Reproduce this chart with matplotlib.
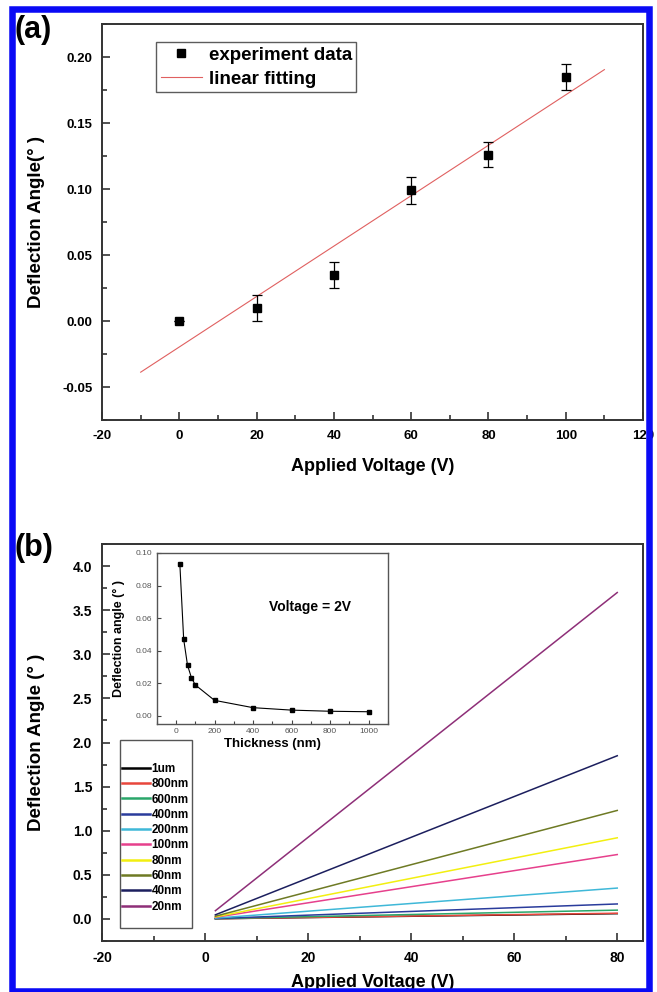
import matplotlib.pyplot as plt
import numpy as np
from matplotlib.patches import Rectangle
from matplotlib.ticker import MultipleLocator

plt.rcParams['font.family'] = ['Liberation Sans', 'DejaVu Sans']
plt.rcParams['font.weight'] = 'bold'
plt.rcParams['axes.labelweight'] = 'bold'
plt.rcParams['axes.unicode_minus'] = False
plt.rcParams['axes.linewidth'] = 1.4
plt.rcParams['axes.edgecolor'] = '#333333'

# panel (a): measured deflection vs applied voltage
voltage_a = [0, 20, 40, 60, 80, 100]
angle_a = [0.0, 0.010, 0.035, 0.099, 0.126, 0.185]
error_a = [0.0, 0.010, 0.010, 0.010, 0.0095, 0.010]
fit_range = [-10, 110]

# panel (b): simulated deflection for several thicknesses
thickness_labels = ['1um', '800nm', '600nm', '400nm', '200nm',
                    '100nm', '80nm', '60nm', '40nm', '20nm']
line_colors = ['#000000', '#e8473c', '#2aa66a', '#2a3c9c', '#3fb8d8',
               '#e6408c', '#f2ef10', '#6e7a24', '#1c1f5e', '#8e2f78']
voltage_b = [2, 80]
angle_80v = [0.06, 0.065, 0.10, 0.17, 0.35, 0.73, 0.92, 1.23, 1.85, 3.70]

# inset: deflection at 2 V vs thickness
thickness_nm = [20, 40, 60, 80, 100, 200, 400, 600, 800, 1000]
angle_2v = [0.0935, 0.047, 0.031, 0.0235, 0.019, 0.0095, 0.005, 0.0035, 0.0028, 0.0025]

fig = plt.figure(figsize=(6.57, 9.92), dpi=100)


def style_axes(ax, size=9.5, pad=6):
    ax.tick_params(which='both', direction='in', top=False, right=False,
                   labelsize=size, pad=pad, width=1.2, color='#333333')
    ax.tick_params(which='major', length=6)
    ax.tick_params(which='minor', length=3.5)


# ---- (a)
ax1 = fig.add_axes([0.1553, 0.5766, 0.8234, 0.3992])
ax1.errorbar(voltage_a, angle_a, yerr=error_a, fmt='none', ecolor='black',
             capsize=3.5, elinewidth=0.9, capthick=0.9, zorder=3)
ax1.plot(voltage_a, angle_a, 's', color='black', ms=5.5,
         label='experiment data', zorder=4)
k, b = np.polyfit(voltage_a, angle_a, 1)
fx = np.array(fit_range)
ax1.plot(fx, k * fx + b, color='#e06060', lw=0.8, label='linear fitting')
ax1.set_xlim(-20, 120)
ax1.set_ylim(-0.075, 0.225)
ax1.xaxis.set_major_locator(MultipleLocator(20))
ax1.xaxis.set_minor_locator(MultipleLocator(10))
ax1.yaxis.set_major_locator(MultipleLocator(0.05))
ax1.yaxis.set_minor_locator(MultipleLocator(0.025))
ax1.yaxis.set_major_formatter(plt.FormatStrFormatter('%.2f'))
style_axes(ax1, pad=7)
ax1.set_xlabel('Applied Voltage (V)', fontsize=13, labelpad=12)
ax1.set_ylabel('Deflection Angle(° )', fontsize=13.5)
ax1.yaxis.set_label_coords(-0.105, 0.5)
leg1 = ax1.legend(loc='upper left',
                  bbox_to_anchor=(0.0998, 0.9545), borderaxespad=0,
                  fancybox=False, edgecolor='#333333',
                  handlelength=2.2, handletextpad=0.35, borderpad=0.25,
                  labelspacing=0.35, prop={'weight': 'bold', 'size': 13.5})
leg1.get_frame().set_linewidth(1.0)

# ---- (b)
ax2 = fig.add_axes([0.1553, 0.0514, 0.8234, 0.4002])
for name, col, end, start in zip(thickness_labels, line_colors,
                                 angle_80v, angle_2v[::-1]):
    ax2.plot(voltage_b, [start, end], color=col, lw=1.1, label=name)
ax2.set_xlim(-20, 85)
ax2.set_ylim(-0.25, 4.25)
ax2.xaxis.set_major_locator(MultipleLocator(20))
ax2.xaxis.set_minor_locator(MultipleLocator(10))
ax2.yaxis.set_major_locator(MultipleLocator(0.5))
ax2.yaxis.set_minor_locator(MultipleLocator(0.25))
ax2.yaxis.set_major_formatter(plt.FormatStrFormatter('%.1f'))
style_axes(ax2, size=10, pad=7)
ax2.set_xlabel('Applied Voltage (V)', fontsize=13, labelpad=7)
ax2.set_ylabel('Deflection Angle (° )', fontsize=13.5)
ax2.yaxis.set_label_coords(-0.105, 0.5)
# legend box drawn separately: tall padding top/bottom, tight at the sides
ax2.add_patch(Rectangle((0.033, 0.033), 0.133, 0.473, transform=ax2.transAxes,
                        fill=False, edgecolor='#555555', lw=1.0, zorder=5))
leg2 = ax2.legend(loc='center left', bbox_to_anchor=(0.036, 0.26),
                  borderaxespad=0, frameon=False,
                  handlelength=2.45, handletextpad=0.1, borderpad=0.0,
                  labelspacing=0.28, prop={'weight': 'bold', 'size': 8.5})
for line in leg2.get_lines():
    line.set_linewidth(1.8)

# ---- inset
ax3 = fig.add_axes([0.2385, 0.2702, 0.352, 0.1724])
ax3.plot(thickness_nm, angle_2v, color='black', lw=0.8, marker='s', ms=2.2)
ax3.set_xlim(-100, 1100)
ax3.set_ylim(-0.005, 0.10)
ax3.xaxis.set_major_locator(MultipleLocator(200))
ax3.xaxis.set_minor_locator(MultipleLocator(100))
ax3.yaxis.set_major_locator(MultipleLocator(0.02))
ax3.yaxis.set_major_formatter(plt.FormatStrFormatter('%.2f'))
ax3.tick_params(which='both', direction='in', top=False, right=False,
                labelsize=6, pad=3, width=0.8, color='#444444',
                labelcolor='#555555')
ax3.tick_params(which='major', length=3)
ax3.tick_params(which='minor', length=2)
for lab in ax3.get_xticklabels() + ax3.get_yticklabels():
    lab.set_fontweight('normal')
for sp in ax3.spines.values():
    sp.set_linewidth(1.0)
    sp.set_edgecolor('#555555')
ax3.set_xlabel('Thickness (nm)', fontsize=9.5, labelpad=2)
ax3.set_ylabel('Deflection angle (° )', fontsize=9)
ax3.yaxis.set_label_coords(-0.137, 0.5)
ax3.text(0.663, 0.684, 'Voltage = 2V', transform=ax3.transAxes,
         ha='center', va='center', fontsize=10)

# panel letters
fig.text(15 / 657, 1 - 30 / 992, '(a)', fontsize=22, ha='left', va='center')
fig.text(15 / 657, 1 - 548 / 992, '(b)', fontsize=22, ha='left', va='center')

# blue frame
fig.patches.append(Rectangle((12 / 657, 1 - 990.5 / 992),
                             (648.5 - 12) / 657, (990.5 - 8.5) / 992,
                             transform=fig.transFigure, fill=False,
                             edgecolor='#0a0af5', lw=4.7, zorder=10))

fig.savefig('out.png', dpi=100)
